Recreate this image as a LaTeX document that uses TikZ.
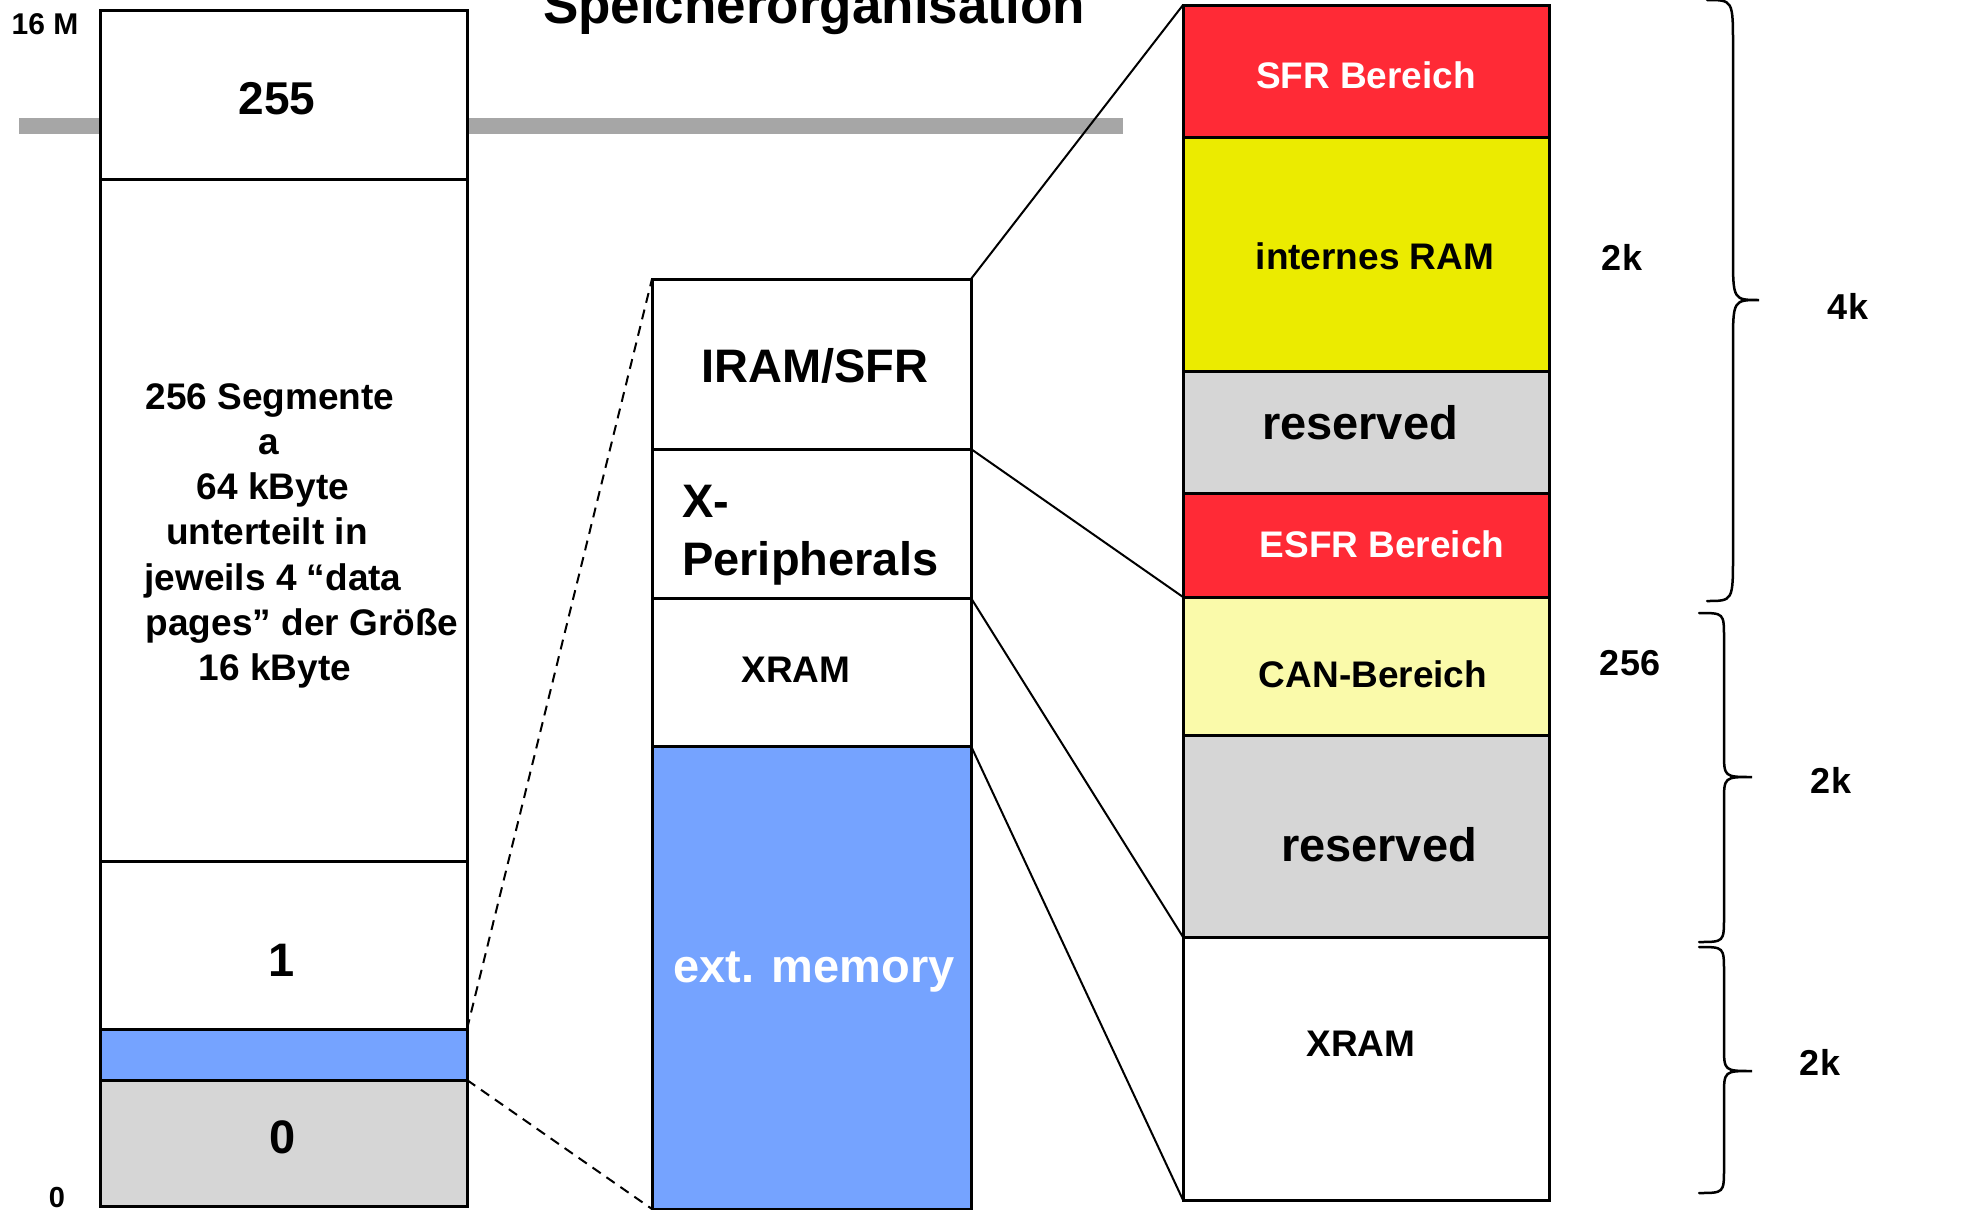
\documentclass[tikz,border=0pt]{standalone}
\usepackage{fontspec}
\setmainfont{Liberation Sans}
\definecolor{cred}{RGB}{255,42,54}
\definecolor{cyel}{RGB}{235,235,0}
\definecolor{clyel}{RGB}{250,250,170}
\definecolor{cgray}{RGB}{214,214,214}
\definecolor{cblue}{RGB}{117,163,255}
\definecolor{cbar}{RGB}{166,166,166}
\newcommand\setfs[1]{\fontsize{#1pt}{#1pt}\selectfont}
\newcommand\drawbrace[7]{%
  \draw[brc] (#1,#4) .. controls (#2,#4) .. (#2,{#4+#7}) -- (#2,{#5-#7})
    .. controls (#2,#5) .. (#3,#5) .. controls (#2,#5) .. (#2,{#5+#7})
    -- (#2,{#6-#7}) .. controls (#2,#6) .. (#1,#6);}
\begin{document}
\begin{tikzpicture}[x=1pt,y=-1pt,
  box/.style={draw=black, line width=3pt, anchor=north west, inner sep=0pt, outer sep=0pt},
  txt/.style={anchor=base, inner sep=0pt, text=black},
  conn/.style={draw=black, line width=2pt},
  dconn/.style={draw=black, line width=2pt, dash pattern=on 10pt off 7pt},
  brc/.style={draw=black, line width=2.5pt, line cap=round}]
\useasboundingbox (0,0) rectangle (1971,1210);
\fill[white] (0,0) rectangle (1971,1210);
% title
\node[txt, font=\bfseries\setfs{53}] (title) at (814,23) {Speicherorganisation};
% grey bar
\fill[cbar] (19,118) rectangle (1123,134);
% left column
\node[box, fill=white, minimum width=367pt, minimum height=169pt] (b255) at (100,10) {};
\node[box, fill=white, minimum width=367pt, minimum height=682pt] (bseg) at (100,179) {};
\node[box, fill=white, minimum width=367pt, minimum height=168pt] (b1) at (100,861) {};
\node[box, fill=cblue, minimum width=367pt, minimum height=51pt] (bblue) at (100,1029) {};
\node[box, fill=cgray, minimum width=367pt, minimum height=126pt] (b0) at (100,1080) {};
% middle column
\node[box, fill=white, minimum width=319pt, minimum height=170pt] (iram) at (652,279) {};
\node[box, fill=white, minimum width=319pt, minimum height=149pt] (xper) at (652,449) {};
\node[box, fill=white, minimum width=319pt, minimum height=148pt] (xram1) at (652,598) {};
\node[box, fill=cblue, minimum width=319pt, minimum height=463pt] (ext) at (652,746) {};
% right column
\node[box, fill=cred, minimum width=366pt, minimum height=132pt] (sfr) at (1183,5) {};
\node[box, fill=cyel, minimum width=366pt, minimum height=234pt] (iram2) at (1183,137) {};
\node[box, fill=cgray, minimum width=366pt, minimum height=122pt] (res1) at (1183,371) {};
\node[box, fill=cred, minimum width=366pt, minimum height=104pt] (esfr) at (1183,493) {};
\node[box, fill=clyel, minimum width=366pt, minimum height=138pt] (can) at (1183,597) {};
\node[box, fill=cgray, minimum width=366pt, minimum height=202pt] (res2) at (1183,735) {};
\node[box, fill=white, minimum width=366pt, minimum height=263pt] (xram2) at (1183,937) {};
% connectors
\draw[dconn] (bblue.north east) -- (iram.north west);
\draw[dconn] (bblue.south east) -- (ext.south west);
\draw[conn] (iram.north east) -- (sfr.north west);
\draw[conn] (iram.south east) -- (esfr.south west);
\draw[conn] (xper.south east) -- (res2.south west);
\draw[conn] (xram1.south east) -- (xram2.south west);
% left labels
\node[txt, font=\bfseries\setfs{30}] (l16m) at (45,34) {16 M};
\node[txt, font=\bfseries\setfs{29}] (l0) at (57,1207) {0};
\node[txt, font=\bfseries\setfs{46}] (t255) at (277,114) {255};
\begin{scope}[every node/.style={txt, font=\bfseries\setfs{37}}]
\node (s1) at (270,409) {256 Segmente};
\node (s2) at (269,454.3) {a};
\node (s3) at (273,499.6) {64 kByte};
\node (s4) at (267,544.9) {unterteilt in};
\node (s5) at (273,590.2) {jeweils 4 “data};
\node (s6) at (302,635.5) {pages” der Größe};
\node (s7) at (275,680.8) {16 kByte};
\end{scope}
\node[txt, font=\bfseries\setfs{47}] (t1) at (282,976) {1};
\node[txt, font=\bfseries\setfs{47}] (t0) at (283,1153) {0};
% middle labels
\node[txt, font=\bfseries\setfs{47}] (tiram) at (815,382) {IRAM/SFR};
\node[txt, anchor=base west, font=\bfseries\setfs{47}] (tx1) at (682,517) {X-};
\node[txt, anchor=base west, font=\bfseries\setfs{47}] (tx2) at (682,575) {Peripherals};
\node[txt, font=\bfseries\setfs{37}] (txram1) at (796,682) {XRAM};
\node[txt, text=white, font=\bfseries\setfs{47}] (text) at (814,982) {ext. memory};
% right labels
\node[txt, text=white, font=\bfseries\setfs{37}] (tsfr) at (1366,88) {SFR Bereich};
\node[txt, font=\bfseries\setfs{37}] (tiram2) at (1375,269) {internes RAM};
\node[txt, font=\bfseries\setfs{47}] (tres1) at (1360,439) {reserved};
\node[txt, text=white, font=\bfseries\setfs{37}] (tesfr) at (1382,557) {ESFR Bereich};
\node[txt, font=\bfseries\setfs{37}] (tcan) at (1373,687) {CAN-Bereich};
\node[txt, font=\bfseries\setfs{47}] (tres2) at (1379,861) {reserved};
\node[txt, font=\bfseries\setfs{37}] (txram2) at (1361,1056) {XRAM};
% size labels
\node[txt, font=\bfseries\setfs{36}] (k2a) at (1622,270) {2k};
\node[txt, font=\bfseries\setfs{36}] (k4) at (1848,319) {4k};
\node[txt, font=\bfseries\setfs{36}] (k256) at (1630,675) {256};
\node[txt, font=\bfseries\setfs{36}] (k2b) at (1831,793) {2k};
\node[txt, font=\bfseries\setfs{36}] (k2c) at (1820,1075) {2k};
% braces
\drawbrace{1707}{1733}{1759}{0}{300}{601}{46}
\drawbrace{1699}{1724}{1752}{613}{777}{942}{25}
\drawbrace{1699}{1724}{1752}{947}{1071}{1193}{25}
\end{tikzpicture}
\end{document}
